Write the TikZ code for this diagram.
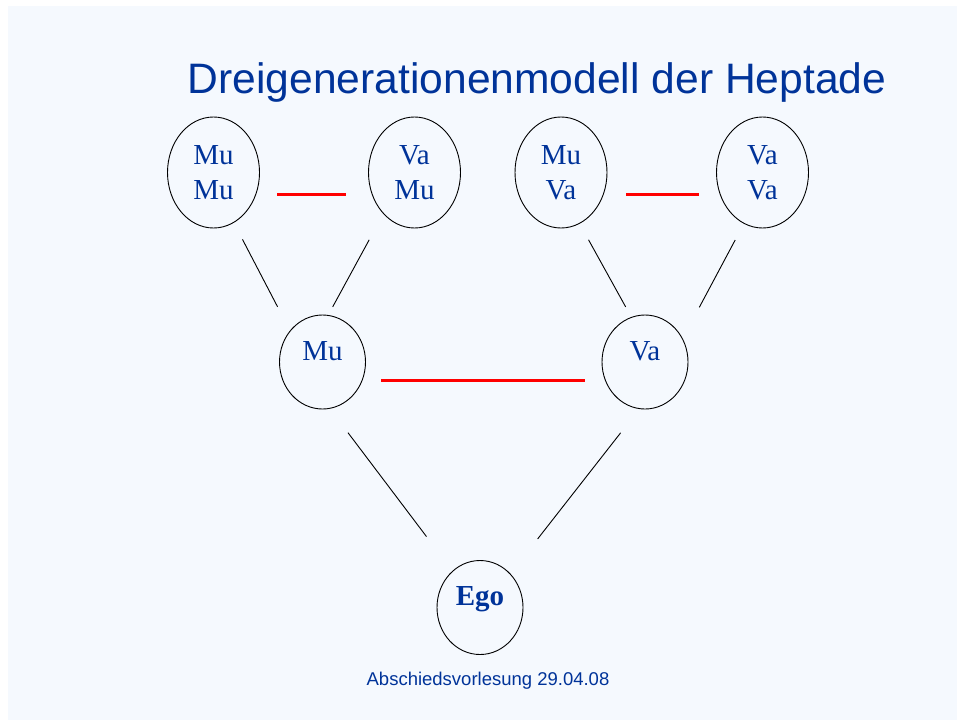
\documentclass[tikz,border=0pt]{standalone}
\usepackage{fontspec}
\setmainfont{Liberation Serif}
\newfontfamily\slidesans{Liberation Sans}
\usetikzlibrary{positioning, shapes.geometric}
\definecolor{slideblue}{RGB}{0,51,153}
\definecolor{slidebg}{RGB}{245,249,254}

\begin{document}
\begin{tikzpicture}[
                x=1pt, y=-1pt,
                person/.style={ellipse, draw=black, line width=0.9pt, inner sep=0pt, text=slideblue, font=\fontsize{29}{35}\selectfont, align=center},
                grandparent/.style={person, minimum width=92pt, minimum height=111pt},
                parent/.style={person, minimum width=86pt, minimum height=94pt, text height=19.3pt, text depth=23pt},
                descent/.style={draw=black, line width=0.9pt},
                partner/.style={draw=red, line width=3pt},
                caption/.style={text=slideblue, inner sep=0pt, anchor=base},
            ]
                % Slide background
                \fill[white] (0,0) rectangle (957,720);
                \fill[slidebg] (8,6) rectangle (957,720);
                \useasboundingbox (0,0) rectangle (957,720);

                \node[caption, font=\slidesans\fontsize{42.6}{50}\selectfont] (title) at (537,93.3) {Dreigenerationenmodell der Heptade};

                % Draw the grandparent nodes
                \foreach \name / \x / \txt in {mumu/213.5/{Mu\\Mu}, vamu/414.5/{Va\\Mu}, muva/561/{Mu\\Va}, vava/762.5/{Va\\Va}}
                    \node[grandparent] (\name) at (\x,172.5) {\txt};

                % Draw the parent nodes and Ego
                \node[parent] (mu) at (322.5,362) {Mu};
                \node[parent] (va) at (645,362) {Va};
                \node[parent] (ego) at (480,607.5) {\bfseries Ego};

                % Couples
                \draw[partner, shorten <=17.5pt, shorten >=22.5pt] ([yshift=-21.5pt]mumu.east) -- ([yshift=-21.5pt]vamu.west);
                \draw[partner, shorten <=19pt, shorten >=17.2pt] ([yshift=-21.5pt]muva.east) -- ([yshift=-21.5pt]vava.west);
                \draw[partner, shorten <=15.5pt, shorten >=17pt] ([yshift=-18pt]mu.east) -- ([yshift=-18pt]va.west);

                % Connect the grandparents with the parents
                \draw[descent, shorten <=18.7pt, shorten >=26.8pt] (mumu.-68.9) -- (mu.136.1);
                \draw[descent, shorten <=29.5pt, shorten >=9.2pt] (vamu.-127.3) -- (mu.83.4);
                \draw[descent, shorten <=18.3pt, shorten >=11.6pt] (muva.-70) -- (va.107.1);
                \draw[descent, shorten <=18.4pt, shorten >=35.2pt] (vava.-110.4) -- (va.32.5);

                % Connect the parents with Ego
                \draw[descent, shorten <=30pt, shorten >=43pt] (mu.-81.2) -- (ego.127.5);
                \draw[descent, shorten <=30.2pt, shorten >=44.1pt] (va.-97.9) -- (ego.48.8);

                \node[caption, font=\slidesans\fontsize{18.5}{22}\selectfont] (footer) at (488,685.7) {Abschiedsvorlesung 29.04.08};
            \end{tikzpicture}
\end{document}
